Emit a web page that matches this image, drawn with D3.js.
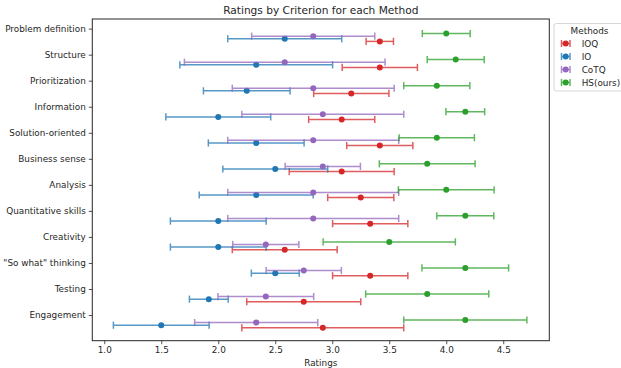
<!DOCTYPE html>
<html>
<head>
<meta charset="utf-8">
<script src="https://cdn.jsdelivr.net/npm/d3@7"></script>
<style>
  body { margin: 0; background: #fff; }
  text { font-family: "DejaVu Sans", sans-serif; fill: #262626; }
</style>
</head>
<body>
<svg id="chart" width="621" height="368"></svg>
<script>
// criteria, top to bottom
let categories = ["Problem definition", "Structure", "Prioritization", "Information",
  "Solution-oriented", "Business sense", "Analysis", "Quantitative skills",
  "Creativity", "\"So what\" thinking", "Testing", "Engagement"];

let methods = ["IOQ", "IO", "CoTQ", "HS(ours)"];
let colors = ["#d62728", "#1f77b4", "#9467bd", "#2ca02c"];

// mean ratings per criterion
let ioqMeans  = [3.417, 3.417, 3.167, 3.083, 3.417, 3.083, 3.25, 3.333, 2.583, 3.333, 2.75, 2.917];
let ioMeans   = [2.583, 2.333, 2.25, 2.0, 2.333, 2.5, 2.333, 2.0, 2.0, 2.5, 1.917, 1.5];
let cotqMeans = [2.833, 2.583, 2.833, 2.917, 2.833, 2.917, 2.833, 2.833, 2.417, 2.75, 2.417, 2.333];
let hsMeans   = [4.0, 4.083, 3.917, 4.167, 3.917, 3.833, 4.0, 4.167, 3.5, 4.167, 3.833, 4.167];

// error half-widths
let ioqErr  = [0.12, 0.33, 0.33, 0.29, 0.29, 0.46, 0.29, 0.33, 0.46, 0.33, 0.5, 0.71];
let ioErr   = [0.5, 0.67, 0.38, 0.46, 0.42, 0.46, 0.5, 0.42, 0.42, 0.21, 0.17, 0.42];
let cotqErr = [0.54, 0.88, 0.71, 0.71, 0.75, 0.33, 0.75, 0.75, 0.29, 0.33, 0.42, 0.54];
let hsErr   = [0.21, 0.25, 0.29, 0.17, 0.33, 0.42, 0.42, 0.25, 0.58, 0.38, 0.54, 0.54];

let offsets = [0.49, 0.39, 0.29, 0.19];

let allMeans = [ioqMeans, ioMeans, cotqMeans, hsMeans];
let allErrs = [ioqErr, ioErr, cotqErr, hsErr];

let svg = d3.select("#chart");
let plotLeft = 92.3, plotTop = 19, plotRight = 549.3, plotBottom = 340.7;

let xScale = d3.scaleLinear().domain([0.895, 4.904]).range([plotLeft, plotRight]);
let yScale = d3.scaleLinear().domain([-0.37, 11.985]).range([plotTop, plotBottom]);

// title
svg.append("text")
  .attr("x", (plotLeft + plotRight) / 2)
  .attr("y", 14)
  .attr("text-anchor", "middle")
  .style("font-size", "10.6px")
  .text("Ratings by Criterion for each Method");

// x axis
let xAxis = svg.append("g")
  .attr("transform", "translate(0," + plotBottom + ")")
  .call(d3.axisBottom(xScale).tickValues([1, 1.5, 2, 2.5, 3, 3.5, 4, 4.5])
    .tickFormat(d3.format(".1f")).tickSize(3.5).tickPadding(3));
xAxis.select(".domain").remove();
xAxis.selectAll("text").style("font-size", "8.85px").attr("fill", "#262626");
xAxis.selectAll("line").attr("stroke", "#262626").attr("stroke-width", 0.8);

svg.append("text")
  .attr("x", (plotLeft + plotRight) / 2)
  .attr("y", 366)
  .attr("text-anchor", "middle")
  .style("font-size", "8.85px")
  .text("Ratings");

// y axis
let yAxis = svg.append("g")
  .attr("transform", "translate(" + plotLeft + ",0)")
  .call(d3.axisLeft(yScale).tickValues(d3.range(categories.length))
    .tickFormat(function (d) { return categories[d]; }).tickSize(3.5).tickPadding(3));
yAxis.select(".domain").remove();
yAxis.selectAll("text").style("font-size", "8.85px").attr("fill", "#262626");
yAxis.selectAll("line").attr("stroke", "#262626").attr("stroke-width", 0.8);

// error bars, in series order
let cap = 3.6;
methods.forEach(function (m, k) {
  let rows = categories.map(function (c, i) {
    return { y: i + offsets[k], mean: allMeans[k][i], err: allErrs[k][i] };
  });
  let g = svg.append("g");
  let bars = g.selectAll(".bar").data(rows).enter().append("g")
    .attr("stroke", colors[k])
    .attr("stroke-width", 1.5)
    .attr("opacity", 0.75);
  bars.append("line")
    .attr("x1", function (d) { return xScale(d.mean - d.err); })
    .attr("x2", function (d) { return xScale(d.mean + d.err); })
    .attr("y1", function (d) { return yScale(d.y); })
    .attr("y2", function (d) { return yScale(d.y); });
  bars.append("line")
    .attr("x1", function (d) { return xScale(d.mean - d.err); })
    .attr("x2", function (d) { return xScale(d.mean - d.err); })
    .attr("y1", function (d) { return yScale(d.y) - cap; })
    .attr("y2", function (d) { return yScale(d.y) + cap; });
  bars.append("line")
    .attr("x1", function (d) { return xScale(d.mean + d.err); })
    .attr("x2", function (d) { return xScale(d.mean + d.err); })
    .attr("y1", function (d) { return yScale(d.y) - cap; })
    .attr("y2", function (d) { return yScale(d.y) + cap; });
  g.selectAll("circle").data(rows).enter().append("circle")
    .attr("cx", function (d) { return xScale(d.mean); })
    .attr("cy", function (d) { return yScale(d.y); })
    .attr("r", 3)
    .attr("fill", colors[k]);
});

// frame
svg.append("rect")
  .attr("x", plotLeft).attr("y", plotTop)
  .attr("width", plotRight - plotLeft).attr("height", plotBottom - plotTop)
  .attr("fill", "none").attr("stroke", "#262626").attr("stroke-width", 1);

// legend
let lg = svg.append("g").attr("transform", "translate(554,23.5)");
lg.append("rect")
  .attr("width", 80).attr("height", 67.5)
  .attr("rx", 2.5)
  .attr("fill", "#fff").attr("fill-opacity", 0.8)
  .attr("stroke", "#cccccc").attr("stroke-width", 0.8);
lg.append("text")
  .attr("x", 35.5).attr("y", 10.5)
  .attr("text-anchor", "middle")
  .style("font-size", "8.85px")
  .text("Methods");
methods.forEach(function (m, k) {
  let yy = 20 + k * 13;
  let item = lg.append("g").attr("transform", "translate(0," + yy + ")");
  let eb = item.append("g").attr("stroke", colors[k]).attr("stroke-width", 1.5).attr("opacity", 0.75);
  eb.append("line").attr("x1", 7.5).attr("x2", 16).attr("y1", 0).attr("y2", 0);
  eb.append("line").attr("x1", 7.5).attr("x2", 7.5).attr("y1", -cap).attr("y2", cap);
  eb.append("line").attr("x1", 16).attr("x2", 16).attr("y1", -cap).attr("y2", cap);
  item.append("circle").attr("cx", 11.7).attr("cy", 0).attr("r", 3).attr("fill", colors[k]);
  item.append("text")
    .attr("x", 27.7).attr("y", 3.2)
    .style("font-size", "8.85px")
    .text(m);
});
</script>
</body>
</html>
